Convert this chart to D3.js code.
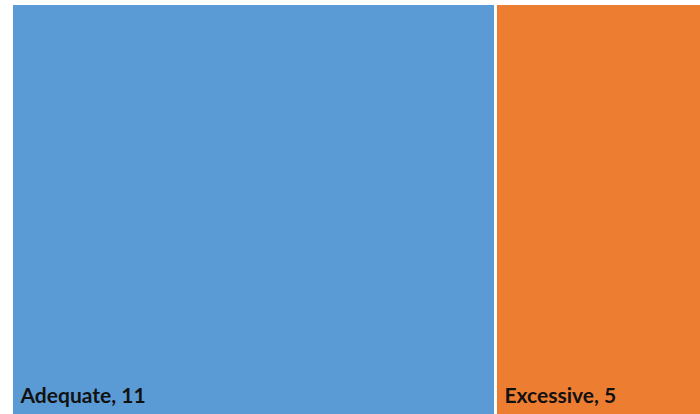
<!DOCTYPE html>
<html>
<head>
<meta charset="utf-8">
<script src="https://cdn.jsdelivr.net/npm/d3@7"></script>
<style>
  html, body { margin: 0; padding: 0; background: #ffffff; }
  svg { display: block; }
</style>
</head>
<body>
<svg id="chart" width="700" height="414"></svg>
<script>
// Treemap categories and their counts
const categories = ["Adequate", "Excessive"];
const counts = [11, 5];
const colors = ["#5B9BD5", "#ED7D31"];

const svg = d3.select("#chart");
const plotX = 13, plotY = 5, plotW = 701, plotH = 416;

const root = d3.hierarchy({
  children: categories.map((c, i) => ({ name: c, value: counts[i], color: colors[i] }))
}).sum(d => d.value || 0);

d3.treemap()
  .tile(d3.treemapSliceDice)
  .size([plotW, plotH])
  .paddingInner(3)(root);

const g = svg.append("g").attr("transform", `translate(${plotX},${plotY})`);

const cell = g.selectAll("g.cell")
  .data(root.leaves())
  .join("g")
  .attr("class", "cell");

cell.append("rect")
  .attr("x", d => d.x0)
  .attr("y", d => d.y0)
  .attr("width", d => d.x1 - d.x0)
  .attr("height", d => d.y1 - d.y0)
  .attr("fill", d => d.data.color);

cell.append("text")
  .attr("x", d => d.x0 + 7.5)
  .attr("y", d => d.y1 - 18)
  .attr("font-family", "Lato, 'Open Sans', sans-serif")
  .attr("font-weight", "bold")
  .attr("font-size", 21)
  .attr("fill", "#111111")
  .text(d => `${d.data.name}, ${d.data.value}`);
</script>
</body>
</html>
